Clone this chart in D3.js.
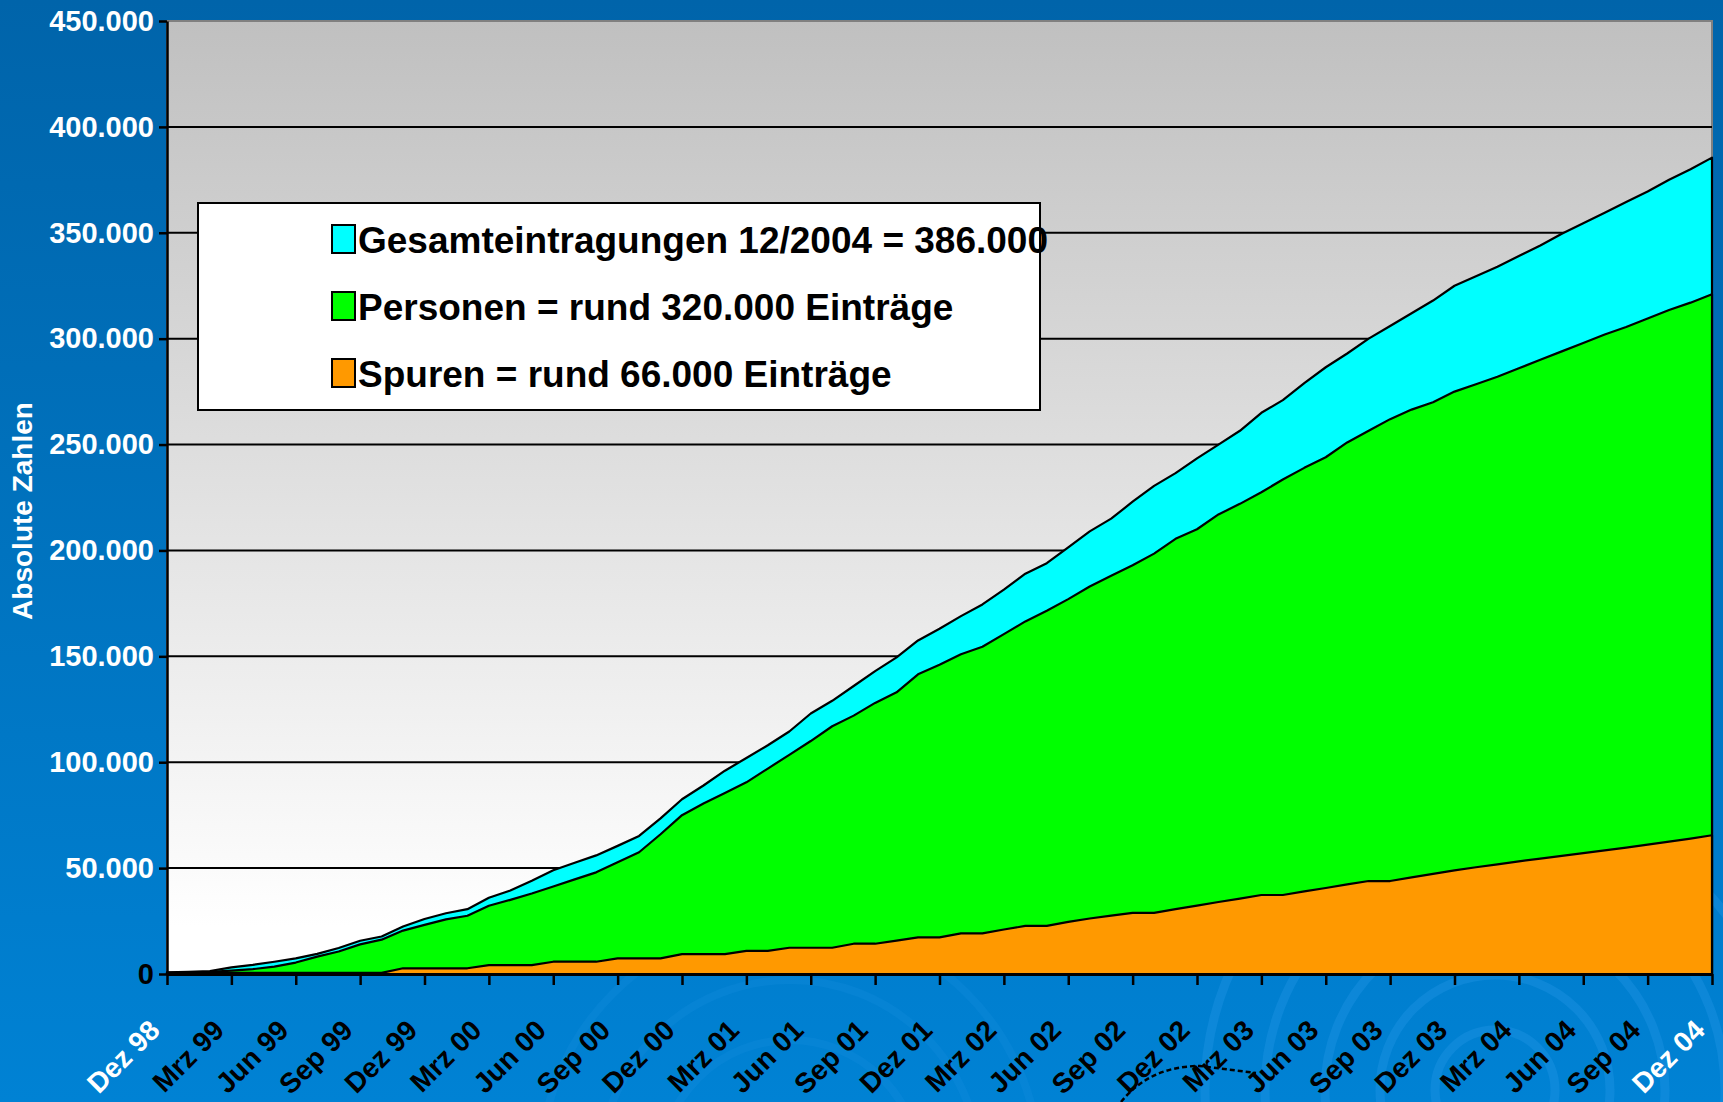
<!DOCTYPE html>
<html>
<head>
<meta charset="utf-8">
<script src="https://cdn.jsdelivr.net/npm/d3@7"></script>
<style>
  body { margin: 0; overflow: hidden; }
  svg { display: block; }
</style>
</head>
<body>
<script>
const width = 1723;
const height = 1102;
const plot = { left: 167, right: 1712, top: 21, bottom: 974 };

// Monate Dez 98 .. Dez 04
const months = [
  "Dez 98",
  "Jan 99","Feb 99","Mrz 99","Apr 99","Mai 99","Jun 99","Jul 99","Aug 99","Sep 99","Okt 99","Nov 99","Dez 99",
  "Jan 00","Feb 00","Mrz 00","Apr 00","Mai 00","Jun 00","Jul 00","Aug 00","Sep 00","Okt 00","Nov 00","Dez 00",
  "Jan 01","Feb 01","Mrz 01","Apr 01","Mai 01","Jun 01","Jul 01","Aug 01","Sep 01","Okt 01","Nov 01","Dez 01",
  "Jan 02","Feb 02","Mrz 02","Apr 02","Mai 02","Jun 02","Jul 02","Aug 02","Sep 02","Okt 02","Nov 02","Dez 02",
  "Jan 03","Feb 03","Mrz 03","Apr 03","Mai 03","Jun 03","Jul 03","Aug 03","Sep 03","Okt 03","Nov 03","Dez 03",
  "Jan 04","Feb 04","Mrz 04","Apr 04","Mai 04","Jun 04","Jul 04","Aug 04","Sep 04","Okt 04","Nov 04","Dez 04"
];

const xTicks = [
  "Dez 98","Mrz 99","Jun 99","Sep 99","Dez 99","Mrz 00","Jun 00","Sep 00","Dez 00",
  "Mrz 01","Jun 01","Sep 01","Dez 01","Mrz 02","Jun 02","Sep 02","Dez 02",
  "Mrz 03","Jun 03","Sep 03","Dez 03","Mrz 04","Jun 04","Sep 04","Dez 04"
];

// Werte in Tausend
const gesamt = [
  0.8, 1.0, 1.4, 3.1, 4.3, 5.8, 7.4, 9.5, 12.3, 15.7, 17.7, 22.4, 26.0,
  28.7, 30.6, 36.0, 39.4, 44.0, 49.0, 52.5, 56.0, 60.5, 65.2, 73.5, 82.5,
  89.0, 96.0, 102.0, 108.0, 114.5, 123.0, 129.0, 136.0, 143.0, 149.5, 157.5, 163.0,
  169.0, 174.5, 181.5, 189.0, 194.0, 201.5, 209.0, 215.0, 223.0, 230.5, 236.5, 243.5,
  250.0, 256.5, 265.0, 271.0, 279.0, 286.5, 293.0, 300.0, 306.0, 312.0, 318.0, 325.0,
  329.5, 334.0, 339.0, 344.0, 349.5, 354.5, 359.5, 364.5, 369.5, 375.0, 380.0, 385.5
];

const personen = [
  0.6, 0.7, 1.0, 1.6, 2.3, 3.5, 5.4, 8.2, 10.6, 14.0, 16.2, 20.5, 23.2,
  25.8, 27.5, 32.2, 35.0, 38.0, 41.3, 44.7, 48.0, 52.8, 57.5, 66.0, 75.0,
  80.5, 85.5, 90.5, 97.0, 103.5, 110.0, 117.0, 122.0, 128.0, 133.0, 141.5, 146.0,
  151.0, 154.5, 160.5, 166.5, 171.5, 177.0, 183.0, 188.0, 193.0, 198.5, 205.5, 210.0,
  217.0, 222.0, 227.5, 233.5, 239.0, 244.0, 251.0, 256.5, 262.0, 266.5, 270.0, 275.0,
  278.5, 282.0, 286.0, 290.0, 294.0, 298.0, 302.0, 305.5, 309.5, 313.5, 317.0, 321.0
];

const spuren = [
  0.5, 0.5, 0.5, 0.5, 0.5, 0.5, 0.5, 0.5, 0.5, 0.5, 0.5, 2.7, 2.7,
  2.7, 2.7, 4.2, 4.2, 4.2, 5.8, 5.8, 5.8, 7.4, 7.4, 7.4, 9.4,
  9.4, 9.4, 10.9, 10.9, 12.4, 12.4, 12.4, 14.3, 14.3, 15.8, 17.3, 17.3,
  19.2, 19.2, 21.0, 22.7, 22.7, 24.6, 26.2, 27.6, 28.9, 28.9, 30.6, 32.3,
  34.0, 35.6, 37.3, 37.3, 39.0, 40.6, 42.3, 43.9, 43.9, 45.6, 47.3, 48.9,
  50.4, 51.8, 53.2, 54.5, 55.8, 57.1, 58.4, 59.7, 61.1, 62.5, 63.9, 65.5
];

const yTicks = [0, 50, 100, 150, 200, 250, 300, 350, 400, 450];

const legendLabels = [
  "Gesamteintragungen 12/2004 = 386.000",
  "Personen = rund 320.000 Einträge",
  "Spuren = rund 66.000 Einträge"
];
const seriesColors = ["#00ffff", "#00ff00", "#ff9900"];

const fontFamily = "Arial, 'Liberation Sans', sans-serif";
const de = d3.formatLocale({ decimal: ",", thousands: ".", grouping: [3], currency: ["", "€"] });
const fmt = de.format(",");

const svg = d3.select("body").append("svg").attr("width", width).attr("height", height);
const defs = svg.append("defs");

const bgGrad = defs.append("linearGradient").attr("id", "bg").attr("x1", 0).attr("y1", 0).attr("x2", 0).attr("y2", 1);
bgGrad.append("stop").attr("offset", "0%").attr("stop-color", "#0064aa");
bgGrad.append("stop").attr("offset", "100%").attr("stop-color", "#0082d4");

const plotGrad = defs.append("linearGradient").attr("id", "plotbg").attr("x1", 0).attr("y1", 0).attr("x2", 0).attr("y2", 1);
plotGrad.append("stop").attr("offset", "0%").attr("stop-color", "#c0c0c0");
plotGrad.append("stop").attr("offset", "95%").attr("stop-color", "#ffffff");

// Hintergrund
svg.append("rect").attr("width", width).attr("height", height).attr("fill", "url(#bg)");

// dekorative Kreise unten rechts
const deko = svg.append("g").attr("fill", "none").attr("stroke", "#2a9cec");
deko.selectAll("circle.a").data([60, 115, 170, 230, 290]).join("circle")
  .attr("class", "a").attr("cx", 1495).attr("cy", 1090).attr("r", d => d)
  .attr("stroke-width", 9).attr("opacity", 0.3);
deko.selectAll("circle.b").data([130, 190, 250]).join("circle")
  .attr("class", "b").attr("cx", 790).attr("cy", 1170).attr("r", d => d)
  .attr("stroke-width", 8).attr("opacity", 0.15);
svg.append("path")
  .attr("d", "M1121,1102 Q1150,1066 1200,1066 L1256,1073")
  .attr("fill", "none").attr("stroke", "#000").attr("stroke-width", 2.5)
  .attr("stroke-dasharray", "5,3");

const x = d3.scalePoint().domain(months).range([plot.left, plot.right]);
const y = d3.scaleLinear().domain([0, 450]).range([plot.bottom, plot.top]);

// Zeichenfläche
svg.append("rect")
  .attr("x", plot.left).attr("y", plot.top)
  .attr("width", plot.right - plot.left).attr("height", plot.bottom - plot.top)
  .attr("fill", "url(#plotbg)")
  .attr("stroke", "#808080").attr("stroke-width", 2);

// Gitternetz
svg.append("g").selectAll("line")
  .data(yTicks.filter(v => v > 0 && v < 450))
  .join("line")
  .attr("x1", plot.left).attr("x2", plot.right)
  .attr("y1", d => y(d)).attr("y2", d => y(d))
  .attr("stroke", "#000").attr("stroke-width", 2);

// Flächen (überlappend, nicht gestapelt)
const area = d3.area()
  .x((d, i) => x(months[i]))
  .y0(y(0))
  .y1(d => y(d));

svg.append("g").selectAll("path")
  .data([gesamt, personen, spuren])
  .join("path")
  .attr("d", area)
  .attr("fill", (d, i) => seriesColors[i])
  .attr("stroke", "#000")
  .attr("stroke-width", 2.2)
  .attr("stroke-linejoin", "round");

// Legende
const legend = svg.append("g");
legend.append("rect")
  .attr("x", 198).attr("y", 203).attr("width", 842).attr("height", 207)
  .attr("fill", "#fff").attr("stroke", "#000").attr("stroke-width", 2);

const items = legend.selectAll("g.item")
  .data(legendLabels)
  .join("g")
  .attr("class", "item")
  .attr("transform", (d, i) => `translate(332, ${225 + i * 67})`);
items.append("rect")
  .attr("width", 23).attr("height", 28)
  .attr("fill", (d, i) => seriesColors[i])
  .attr("stroke", "#000").attr("stroke-width", 2);
items.append("text")
  .attr("x", 26).attr("y", 28)
  .attr("font-family", fontFamily).attr("font-weight", "bold").attr("font-size", 37)
  .attr("fill", "#000")
  .text(d => d);

// Achsen
const yAxis = svg.append("g")
  .attr("transform", `translate(${plot.left},0)`)
  .call(d3.axisLeft(y).tickValues(yTicks).tickSize(8).tickSizeOuter(0).tickFormat(d => fmt(d * 1000)));
yAxis.select(".domain").attr("stroke", "#000").attr("stroke-width", 2.5);
yAxis.selectAll(".tick line").attr("stroke", "#000").attr("stroke-width", 2.5);
yAxis.selectAll(".tick text")
  .attr("x", -13)
  .attr("font-family", fontFamily).attr("font-weight", "bold").attr("font-size", 29)
  .attr("fill", d => d === 0 ? "#000" : "#fff");

const xAxis = svg.append("g")
  .attr("transform", `translate(0,${plot.bottom})`)
  .call(d3.axisBottom(x).tickValues(xTicks).tickSize(11).tickSizeOuter(0));
xAxis.select(".domain").attr("stroke", "#000").attr("stroke-width", 3);
xAxis.selectAll(".tick line").attr("stroke", "#000").attr("stroke-width", 2.5);
xAxis.selectAll(".tick text")
  .attr("x", 0).attr("y", 0).attr("dy", 0)
  .attr("text-anchor", "end")
  .attr("transform", "translate(-6,58) rotate(-45)")
  .attr("font-family", fontFamily).attr("font-weight", "bold").attr("font-size", 28)
  .attr("fill", (d, i) => (i === 0 || i === xTicks.length - 1) ? "#fff" : "#000");

// Achsentitel
svg.append("text")
  .attr("transform", "translate(22,511) rotate(-90)")
  .attr("text-anchor", "middle")
  .attr("dominant-baseline", "central")
  .attr("font-family", fontFamily).attr("font-weight", "bold").attr("font-size", 28)
  .attr("fill", "#fff")
  .text("Absolute Zahlen");
</script>
</body>
</html>
